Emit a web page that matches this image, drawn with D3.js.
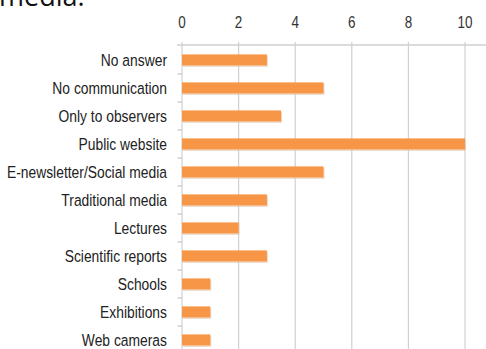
<!DOCTYPE html>
<html><head><meta charset="utf-8">
<script src="https://cdn.jsdelivr.net/npm/d3@7"></script>
<style>
html,body{margin:0;padding:0;background:#fff;}
svg{display:block;}
</style></head>
<body>
<script>
const categories = ["No answer","No communication","Only to observers","Public website","E-newsletter/Social media","Traditional media","Lectures","Scientific reports","Schools","Exhibitions","Web cameras"];
const values = [3,5,3.5,10,5,3,2,3,1,1,1];
const tickValues = [0,2,4,6,8,10];
const titleText = "media.";

const W = 486, H = 349;
const svg = d3.select("body").append("svg").attr("width",W).attr("height",H);

svg.append("text").attr("x",-1).attr("y",6)
  .attr("font-family","Open Sans, sans-serif").attr("font-size",27).attr("fill","#111")
  .text(titleText);

const x = d3.scaleLinear().domain([0,10]).range([182,465]);
const y = d3.scaleBand().domain(categories).range([46,46+28*categories.length]).paddingInner(0.6).paddingOuter(0.3);

const font = "'Liberation Sans', Arial, sans-serif";
const sx = 0.84;

// gridlines
svg.append("g").selectAll("line").data(tickValues).join("line")
  .attr("x1",d=>x(d)).attr("x2",d=>x(d)).attr("y1",42).attr("y2",H)
  .attr("stroke","#d0d0d0").attr("stroke-width",1.2);

// top axis line
svg.append("line").attr("x1",177).attr("x2",W).attr("y1",45).attr("y2",45)
  .attr("stroke","#cfcfcf").attr("stroke-width",1.5);

// tick labels
svg.append("g").selectAll("text").data(tickValues).join("text")
  .attr("transform",d=>`translate(${x(d)},28) scale(${sx},1)`).attr("text-anchor","middle")
  .attr("font-family",font).attr("font-size",16).attr("fill","#333")
  .text(d=>d);

// left category ticks at band boundaries
const step = y.step();
svg.append("g").selectAll("line").data(d3.range(1,categories.length)).join("line")
  .attr("x1",177.5).attr("x2",182).attr("y1",d=>46+step*d).attr("y2",d=>46+step*d)
  .attr("stroke","#bbb").attr("stroke-width",1);

// bar shadows
svg.append("g").selectAll("rect").data(values).join("rect")
  .attr("x",x(0)+1).attr("y",(d,i)=>y(categories[i])+1.5)
  .attr("width",d=>x(d)-x(0)).attr("height",11)
  .attr("fill","#e7c9b0").attr("opacity",0.7);

// bars
svg.append("g").selectAll("rect").data(values).join("rect")
  .attr("x",x(0)).attr("y",(d,i)=>y(categories[i]))
  .attr("width",d=>x(d)-x(0)).attr("height",11)
  .attr("fill","#F79646");

// category labels
svg.append("g").selectAll("text").data(categories).join("text")
  .attr("transform",d=>`translate(167,${y(d)+5.5}) scale(${sx},1)`).attr("dy","0.35em").attr("text-anchor","end")
  .attr("font-family",font).attr("font-size",16.5).attr("fill","#222")
  .text(d=>d);
</script>
</body></html>
